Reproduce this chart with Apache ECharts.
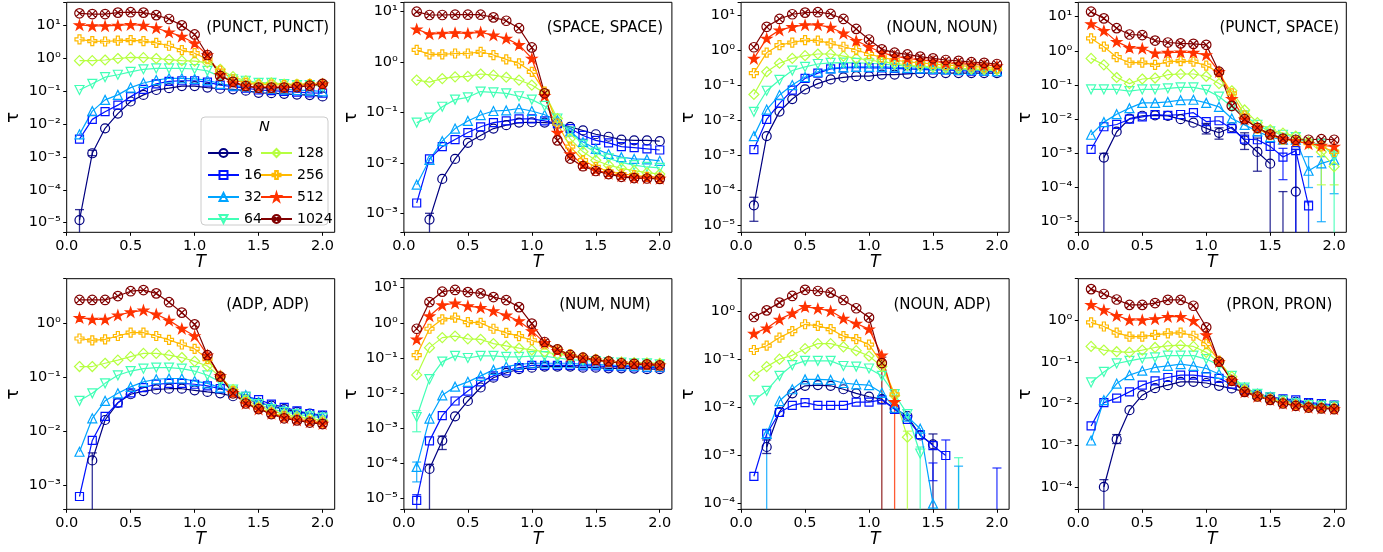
<!DOCTYPE html>
<html>
<head>
<meta charset="utf-8">
<script src="https://cdn.jsdelivr.net/npm/echarts@6/dist/echarts.min.js"></script>
<style>
  html, body { margin: 0; padding: 0; background: #ffffff; }
  #chart { width: 1383px; height: 552px; }
</style>
</head>
<body>
<div id="chart"></div>
<script>
// Temperatures at which tau was measured
const T = [0.1, 0.2, 0.3, 0.4, 0.5, 0.6, 0.7, 0.8, 0.9, 1.0, 1.1, 1.2, 1.3, 1.4, 1.5, 1.6, 1.7, 1.8, 1.9, 2.0];
// System sizes, one curve each
const N_LABELS = ['8', '16', '32', '64', '128', '256', '512', '1024'];
const PANEL_TITLES = ['(PUNCT, PUNCT)', '(SPACE, SPACE)', '(NOUN, NOUN)', '(PUNCT, SPACE)',
                      '(ADP, ADP)', '(NUM, NUM)', '(NOUN, ADP)', '(PRON, PRON)'];
const X_TICKS = [0.0, 0.5, 1.0, 1.5, 2.0];
// y limits of each panel, as exponents of ten
const Y_EXP_RANGES = [[-5.293, 1.712], [-3.377, 1.186], [-5.2, 1.362], [-5.31, 1.42],
                      [-3.445, 0.834], [-5.302, 1.255], [-4.117, 0.67], [-4.535, 0.99]];

// tau(T) per panel: one row per N (8 ... 1024); null = not positive
const tauPunctPunct = [
  [1.2e-5, 1.3e-3, 0.0075, 0.021, 0.049, 0.078, 0.11, 0.125, 0.145, 0.145, 0.13, 0.12, 0.115, 0.105, 0.09, 0.088, 0.084, 0.08, 0.077, 0.07],
  [0.0035, 0.014, 0.024, 0.038, 0.069, 0.115, 0.17, 0.2, 0.21, 0.21, 0.19, 0.155, 0.14, 0.125, 0.11, 0.105, 0.1, 0.095, 0.09, 0.088],
  [0.0049, 0.025, 0.055, 0.078, 0.13, 0.18, 0.22, 0.25, 0.25, 0.24, 0.22, 0.17, 0.15, 0.14, 0.13, 0.12, 0.115, 0.11, 0.105, 0.1],
  [0.11, 0.17, 0.27, 0.32, 0.39, 0.47, 0.5, 0.5, 0.5, 0.48, 0.42, 0.28, 0.23, 0.21, 0.18, 0.18, 0.165, 0.155, 0.155, 0.145],
  [0.86, 0.86, 0.9, 1.0, 1.08, 1.06, 1.0, 0.93, 0.86, 0.83, 0.75, 0.47, 0.28, 0.21, 0.17, 0.18, 0.165, 0.165, 0.17, 0.17],
  [3.8, 3.4, 3.3, 3.5, 3.65, 3.4, 3.0, 2.45, 1.8, 1.45, 0.95, 0.43, 0.23, 0.18, 0.16, 0.16, 0.155, 0.16, 0.165, 0.17],
  [10.5, 9.8, 9.8, 10.2, 10.7, 10.2, 8.5, 6.3, 4.7, 2.9, 1.28, 0.32, 0.18, 0.145, 0.13, 0.13, 0.13, 0.14, 0.15, 0.165],
  [23.8, 22.6, 22.6, 25, 25.7, 25, 21, 16, 10.2, 5.4, 1.28, 0.295, 0.195, 0.145, 0.13, 0.13, 0.13, 0.135, 0.15, 0.17]
];
const tauSpaceSpace = [
  [null, 0.00075, 0.0048, 0.012, 0.025, 0.035, 0.048, 0.056, 0.063, 0.064, 0.063, 0.06, 0.052, 0.044, 0.037, 0.033, 0.029, 0.028, 0.028, 0.027],
  [0.0016, 0.012, 0.021, 0.029, 0.04, 0.052, 0.063, 0.068, 0.075, 0.075, 0.068, 0.06, 0.048, 0.035, 0.028, 0.025, 0.021, 0.02, 0.019, 0.018],
  [0.0037, 0.0115, 0.027, 0.048, 0.068, 0.089, 0.107, 0.11, 0.12, 0.107, 0.09, 0.07, 0.042, 0.026, 0.019, 0.015, 0.013, 0.012, 0.0117, 0.011],
  [0.063, 0.079, 0.13, 0.18, 0.2, 0.26, 0.25, 0.24, 0.21, 0.18, 0.135, 0.076, 0.042, 0.023, 0.016, 0.0123, 0.0102, 0.009, 0.0083, 0.008],
  [0.44, 0.4, 0.47, 0.51, 0.52, 0.58, 0.55, 0.5, 0.44, 0.35, 0.24, 0.076, 0.03, 0.0166, 0.0113, 0.009, 0.0078, 0.007, 0.0064, 0.006],
  [1.75, 1.42, 1.42, 1.48, 1.48, 1.6, 1.38, 1.13, 0.94, 0.64, 0.26, 0.06, 0.021, 0.0113, 0.0083, 0.0068, 0.006, 0.0057, 0.0053, 0.0051],
  [4.5, 3.6, 3.7, 3.8, 3.7, 3.9, 3.4, 2.95, 2.2, 1.18, 0.215, 0.04, 0.015, 0.0092, 0.0072, 0.0062, 0.0055, 0.0051, 0.005, 0.0049],
  [10, 8.6, 8.6, 8.7, 8.7, 8.7, 7.7, 6.6, 4.7, 1.95, 0.24, 0.028, 0.0122, 0.0086, 0.0069, 0.006, 0.0053, 0.005, 0.0049, 0.0048]
];
const tauNounNoun = [
  [3.7e-5, 0.0035, 0.0175, 0.04, 0.075, 0.11, 0.145, 0.165, 0.18, 0.18, 0.2, 0.2, 0.21, 0.22, 0.22, 0.22, 0.22, 0.22, 0.22, 0.22],
  [0.00145, 0.0105, 0.03, 0.072, 0.155, 0.22, 0.29, 0.31, 0.32, 0.31, 0.31, 0.3, 0.29, 0.28, 0.27, 0.27, 0.26, 0.25, 0.25, 0.24],
  [0.0035, 0.02, 0.052, 0.1, 0.17, 0.24, 0.3, 0.32, 0.33, 0.33, 0.33, 0.32, 0.31, 0.3, 0.29, 0.28, 0.27, 0.27, 0.26, 0.25],
  [0.0173, 0.069, 0.14, 0.26, 0.33, 0.4, 0.43, 0.44, 0.43, 0.42, 0.4, 0.37, 0.35, 0.33, 0.31, 0.3, 0.29, 0.28, 0.27, 0.26],
  [0.054, 0.24, 0.42, 0.58, 0.69, 0.77, 0.77, 0.67, 0.58, 0.52, 0.46, 0.42, 0.37, 0.35, 0.33, 0.31, 0.3, 0.29, 0.28, 0.27],
  [0.22, 0.84, 1.39, 1.62, 1.93, 1.85, 1.55, 1.24, 1.0, 0.77, 0.62, 0.52, 0.46, 0.43, 0.4, 0.37, 0.36, 0.34, 0.32, 0.3],
  [0.57, 2.15, 3.7, 4.6, 5.2, 5.2, 4.4, 3.0, 1.85, 1.24, 0.84, 0.67, 0.58, 0.52, 0.48, 0.43, 0.41, 0.39, 0.37, 0.35],
  [1.2, 4.6, 7.7, 10.5, 11.7, 12, 10.7, 7.7, 4.0, 2.0, 1.05, 0.84, 0.75, 0.65, 0.58, 0.52, 0.49, 0.45, 0.43, 0.4]
];
const tauPunctSpace = [
  [null, 0.00075, 0.0043, 0.0104, 0.0126, 0.013, 0.0125, 0.01, 0.0079, 0.0054, 0.004, 0.0058, 0.0024, 0.0011, 0.0005, null, 7.6e-5, null, null, null],
  [0.0013, 0.006, 0.007, 0.01, 0.0117, 0.0137, 0.013, 0.0137, 0.0155, 0.0085, 0.009, 0.0053, 0.0026, 0.0025, 0.0016, 0.00078, 0.0012, 2.9e-5, null, null],
  [0.0035, 0.0082, 0.014, 0.021, 0.03, 0.03, 0.032, 0.036, 0.037, 0.03, 0.023, 0.0105, 0.0068, 0.0044, 0.003, 0.0025, 0.0025, 0.00031, 0.00051, 0.00065],
  [0.074, 0.074, 0.074, 0.066, 0.074, 0.074, 0.08, 0.085, 0.085, 0.072, 0.046, 0.023, 0.013, 0.0068, 0.0044, 0.0035, 0.003, 0.0019, 0.0019, 0.0008],
  [0.6, 0.39, 0.166, 0.11, 0.15, 0.16, 0.2, 0.21, 0.21, 0.18, 0.11, 0.068, 0.0186, 0.0079, 0.0049, 0.0039, 0.0032, 0.0022, 0.0011, 0.00041],
  [2.3, 1.32, 0.65, 0.45, 0.45, 0.39, 0.48, 0.5, 0.48, 0.37, 0.23, 0.057, 0.013, 0.0053, 0.0034, 0.0025, 0.0023, 0.002, 0.0016, 0.0011],
  [6.1, 3.9, 1.86, 1.24, 1.17, 0.85, 0.89, 0.91, 0.89, 0.76, 0.245, 0.04, 0.01, 0.0056, 0.0037, 0.0027, 0.0023, 0.0019, 0.0017, 0.0016],
  [14, 8.9, 4.6, 3.0, 2.9, 2.0, 1.75, 1.65, 1.6, 1.5, 0.245, 0.0245, 0.01, 0.0056, 0.0036, 0.0027, 0.0025, 0.0025, 0.0026, 0.0025]
];
const tauAdpAdp = [
  [null, 0.0029, 0.0163, 0.034, 0.049, 0.056, 0.06, 0.062, 0.062, 0.058, 0.054, 0.051, 0.045, 0.04, 0.034, 0.03, 0.026, 0.023, 0.0214, 0.0195],
  [0.00062, 0.0068, 0.019, 0.034, 0.052, 0.065, 0.075, 0.078, 0.078, 0.075, 0.07, 0.062, 0.056, 0.045, 0.039, 0.032, 0.028, 0.024, 0.0215, 0.02],
  [0.0042, 0.0175, 0.037, 0.051, 0.067, 0.083, 0.093, 0.096, 0.096, 0.086, 0.078, 0.065, 0.056, 0.047, 0.035, 0.029, 0.025, 0.022, 0.021, 0.019],
  [0.037, 0.051, 0.078, 0.11, 0.132, 0.146, 0.153, 0.153, 0.146, 0.132, 0.11, 0.083, 0.06, 0.044, 0.032, 0.026, 0.023, 0.021, 0.019, 0.018],
  [0.16, 0.16, 0.184, 0.21, 0.244, 0.28, 0.28, 0.26, 0.235, 0.2, 0.164, 0.104, 0.06, 0.039, 0.029, 0.024, 0.021, 0.019, 0.0173, 0.016],
  [0.53, 0.49, 0.51, 0.59, 0.68, 0.68, 0.59, 0.5, 0.41, 0.34, 0.22, 0.107, 0.056, 0.035, 0.027, 0.022, 0.019, 0.0172, 0.0156, 0.0146],
  [1.29, 1.2, 1.2, 1.43, 1.64, 1.77, 1.49, 1.15, 0.81, 0.59, 0.26, 0.107, 0.052, 0.033, 0.026, 0.0215, 0.018, 0.0162, 0.015, 0.014],
  [2.75, 2.75, 2.75, 3.25, 4.0, 4.2, 3.65, 2.5, 1.6, 0.97, 0.26, 0.104, 0.051, 0.033, 0.026, 0.021, 0.0175, 0.016, 0.0146, 0.0137]
];
const tauNumNum = [
  [null, 7e-5, 0.00045, 0.0022, 0.006, 0.0145, 0.0275, 0.038, 0.048, 0.053, 0.057, 0.057, 0.057, 0.053, 0.053, 0.051, 0.051, 0.05, 0.048, 0.048],
  [9e-6, 0.00044, 0.0023, 0.006, 0.0115, 0.021, 0.031, 0.043, 0.053, 0.062, 0.062, 0.062, 0.062, 0.06, 0.06, 0.057, 0.057, 0.056, 0.053, 0.053],
  [8e-5, 0.0019, 0.0087, 0.0153, 0.021, 0.031, 0.046, 0.057, 0.066, 0.071, 0.071, 0.071, 0.071, 0.066, 0.066, 0.063, 0.062, 0.06, 0.057, 0.057],
  [0.0021, 0.025, 0.079, 0.115, 0.1, 0.115, 0.115, 0.107, 0.107, 0.113, 0.113, 0.1, 0.09, 0.085, 0.082, 0.077, 0.074, 0.071, 0.07, 0.066],
  [0.033, 0.197, 0.38, 0.42, 0.35, 0.34, 0.257, 0.22, 0.19, 0.17, 0.15, 0.128, 0.115, 0.1, 0.091, 0.082, 0.077, 0.074, 0.073, 0.071],
  [0.12, 0.68, 1.26, 1.4, 1.05, 1.0, 0.68, 0.52, 0.42, 0.32, 0.245, 0.177, 0.128, 0.102, 0.09, 0.079, 0.072, 0.068, 0.065, 0.062],
  [0.34, 1.56, 3.2, 3.6, 3.0, 2.7, 2.17, 1.64, 1.13, 0.59, 0.27, 0.16, 0.115, 0.098, 0.086, 0.078, 0.071, 0.066, 0.064, 0.062],
  [0.68, 3.9, 7.7, 8.6, 7.5, 6.9, 5.4, 4.45, 2.8, 0.95, 0.285, 0.177, 0.122, 0.102, 0.088, 0.08, 0.071, 0.068, 0.066, 0.062]
];
const tauNounAdp = [
  [null, 0.0015, 0.008, 0.0195, 0.028, 0.029, 0.028, 0.0237, 0.0195, 0.0166, 0.0148, 0.0094, 0.0066, 0.0026, 0.0017, null, null, null, null, null],
  [0.00037, 0.0028, 0.0078, 0.011, 0.0125, 0.011, 0.011, 0.011, 0.0128, 0.0128, 0.0143, 0.0091, 0.0056, 0.0027, 0.0016, 0.001, null, null, null, null],
  [null, 0.0028, 0.0135, 0.0237, 0.038, 0.038, 0.037, 0.032, 0.03, 0.029, 0.02, 0.0098, 0.0064, 0.0036, 0.0001, null, null, null, null, null],
  [0.014, 0.022, 0.045, 0.075, 0.092, 0.092, 0.092, 0.072, 0.07, 0.064, 0.045, 0.0187, 0.0072, 0.0011, null, null, null, null, null, null],
  [0.045, 0.07, 0.1, 0.12, 0.165, 0.21, 0.21, 0.18, 0.15, 0.116, 0.07, 0.0175, 0.0024, null, null, null, null, null, null, null],
  [0.155, 0.19, 0.28, 0.38, 0.53, 0.49, 0.42, 0.3, 0.26, 0.2, 0.082, 0.0185, null, null, null, null, null, null, null, null],
  [0.34, 0.44, 0.67, 0.9, 1.23, 1.12, 1.0, 0.7, 0.55, 0.42, 0.12, 0.013, null, null, null, null, null, null, null, null],
  [0.75, 1.03, 1.49, 2.05, 2.75, 2.6, 2.4, 1.69, 1.14, 0.73, 0.083, null, null, null, null, null, null, null, null, null]
];
const tauPronPron = [
  [null, 1e-4, 0.0014, 0.0069, 0.0158, 0.0233, 0.0275, 0.033, 0.033, 0.031, 0.0265, 0.023, 0.019, 0.016, 0.014, 0.0122, 0.011, 0.01, 0.0092, 0.0088],
  [0.0029, 0.0105, 0.0134, 0.019, 0.0275, 0.035, 0.042, 0.048, 0.048, 0.044, 0.04, 0.029, 0.022, 0.0167, 0.0145, 0.013, 0.0122, 0.0105, 0.01, 0.0092],
  [0.0013, 0.012, 0.03, 0.048, 0.061, 0.073, 0.08, 0.088, 0.08, 0.069, 0.051, 0.037, 0.024, 0.017, 0.0145, 0.012, 0.011, 0.0097, 0.0091, 0.0088],
  [0.032, 0.057, 0.091, 0.105, 0.12, 0.127, 0.14, 0.14, 0.14, 0.116, 0.083, 0.046, 0.024, 0.017, 0.014, 0.0117, 0.0101, 0.0092, 0.0088, 0.0085],
  [0.233, 0.19, 0.174, 0.168, 0.19, 0.22, 0.24, 0.25, 0.233, 0.168, 0.1, 0.044, 0.022, 0.016, 0.013, 0.011, 0.0096, 0.0088, 0.0083, 0.008],
  [0.88, 0.7, 0.5, 0.4, 0.4, 0.44, 0.48, 0.5, 0.42, 0.265, 0.105, 0.037, 0.02, 0.015, 0.0125, 0.0103, 0.009, 0.0082, 0.0078, 0.0075],
  [2.33, 1.74, 1.27, 1.0, 1.0, 1.06, 1.2, 1.2, 0.96, 0.44, 0.1, 0.035, 0.019, 0.0148, 0.0123, 0.0101, 0.0089, 0.0081, 0.0077, 0.0074],
  [5.5, 4.2, 3.1, 2.3, 2.3, 2.55, 3.05, 3.05, 2.2, 0.67, 0.1, 0.035, 0.019, 0.0147, 0.0122, 0.01, 0.0088, 0.008, 0.0076, 0.0073]
];

// Error bars: [N index, T, lower, upper]; lower 0 means it runs off the bottom of the axes
const errPunctPunct = [[0, 0.1, 0, 2.5e-5], [0, 0.2, 0.0011, 0.0016]];
const errSpaceSpace = [[0, 0.2, 0, 0.001]];
const errNounNoun = [[0, 0.1, 1.3e-5, 6.3e-5]];
const errPunctSpace = [
  [0, 0.2, 0, 0.001], [0, 1.0, 0.0037, 0.0075], [0, 1.1, 0.0026, 0.0056], [0, 1.3, 0.0013, 0.004],
  [0, 1.4, 3e-4, 0.0028], [0, 1.5, 0, 0.0021], [0, 1.6, 0, 7.6e-5], [0, 1.7, 0, 0.0013],
  [1, 1.6, 1.7e-4, 0.0014], [1, 1.7, 0, 0.0013], [1, 1.8, 0, 4e-5], [2, 1.8, 1e-4, 8e-4],
  [2, 1.9, 1e-5, 8e-4], [2, 2.0, 6.6e-5, 0.0012], [4, 1.9, 1.2e-4, 0.002], [4, 2.0, 1.2e-4, 0.0013],
  [3, 2.0, 0, 0.0012]
];
const errAdpAdp = [[0, 0.2, 0, 0.004]];
const errNumNum = [[3, 0.1, 0.0008, 0.0032], [2, 0.1, 3e-5, 1.1e-4], [1, 0.1, 0, 1.3e-5], [0, 0.2, 0, 9.5e-5], [0, 0.3, 2.5e-4, 6e-4]];
const errNounAdp = [
  [7, 1.1, 0, 0.11], [6, 1.2, 0, 0.017], [4, 1.3, 0, 0.0032], [3, 1.4, 0, 0.0015],
  [0, 1.5, 0, 0.0028], [1, 1.5, 3e-4, 7e-4], [1, 1.6, 0, 0.0021], [3, 1.7, 0, 0.0009],
  [2, 1.7, 0, 0.0006], [1, 2.0, 0, 0.00055], [2, 0.2, 0, 0.0035], [0, 0.2, 0.0011, 0.0021]
];
const errPronPron = [[0, 0.2, 0, 1.5e-4], [0, 0.3, 0.0011, 0.0018]];

const TAU = [tauPunctPunct, tauSpaceSpace, tauNounNoun, tauPunctSpace, tauAdpAdp, tauNumNum, tauNounAdp, tauPronPron];
const ERRS = [errPunctPunct, errSpaceSpace, errNounNoun, errPunctSpace, errAdpAdp, errNumNum, errNounAdp, errPronPron];

// jet colormap sampled at eight evenly spaced points
const COLORS = ['#000080', '#0012ff', '#00a4ff', '#41ffb6', '#b6ff41', '#ffb900', '#ff3200', '#800000'];
const PLUS_PATH = 'path://M2,0H4V2H6V4H4V6H2V4H0V2H2Z';
const STAR_PATH = 'path://M10,0L12.245,6.91L19.51,6.91L13.63,11.18L15.88,18.09L10,13.82L4.12,18.09L6.37,11.18L0.49,6.91L7.755,6.91Z';
const OTIMES_PATH = 'path://M10,0A10,10,0,1,1,10,20A10,10,0,1,1,10,0ZM2.93,2.93L17.07,17.07M17.07,2.93L2.93,17.07';
const SYMBOLS = ['circle', 'rect', 'triangle', 'triangle', 'diamond', PLUS_PATH, STAR_PATH, OTIMES_PATH];
const SYMBOL_ROTATE = [0, 0, 0, 180, 0, 0, 0, 0];
const SYMBOL_SIZE = [9, 8, 9, 9, 10, 9, 10, 9.5];
const SYMBOL_FILLED = [false, false, false, false, false, false, true, false];

// Layout of the 2 x 4 grid of axes
const COL_LEFT = [66.7, 403.9, 741.1, 1078.3];
const COL_WIDTH = 268;
const ROW_TOP = [2.3, 278.7];
const ROW_HEIGHT = [230, 230.6];
const FONT = 'DejaVu Sans';

const SUP = { '0': '\u2070', '1': '\u00b9', '2': '\u00b2', '3': '\u00b3', '4': '\u2074', '5': '\u2075',
              '6': '\u2076', '7': '\u2077', '8': '\u2078', '9': '\u2079', '-': '\u207b' };
function powLabel(v) {
  const e = Math.log10(v);
  const r = Math.round(e);
  if (Math.abs(e - r) > 1e-6) return '';
  return '10' + String(r).split('').map(c => SUP[c]).join('');
}
function xLabel(v) {
  return Math.abs(v * 2 - Math.round(v * 2)) < 1e-9 ? v.toFixed(1) : '';
}

const grids = [], xAxes = [], yAxes = [], series = [], graphics = [];

TAU.forEach((rows, p) => {
  const col = p % 4, row = Math.floor(p / 4);
  const left = COL_LEFT[col], top = ROW_TOP[row], width = COL_WIDTH, height = ROW_HEIGHT[row];
  grids.push({ left, top, width, height, show: true, borderColor: '#000', borderWidth: 1, backgroundColor: 'transparent', containLabel: false });

  xAxes.push({
    gridIndex: p, type: 'value', min: 0, max: 2.095, interval: 0.5,
    axisLine: { show: false },
    axisTick: { show: true, length: 3.5, lineStyle: { color: '#000', width: 1 } },
    axisLabel: { formatter: xLabel, margin: 6, fontSize: 14.5, color: '#000', fontFamily: FONT, showMaxLabel: false },
    splitLine: { show: false },
    name: 'T', nameLocation: 'middle', nameGap: 20,
    nameTextStyle: { fontStyle: 'italic', fontSize: 17, fontFamily: FONT, color: '#000' }
  });

  const yr = Y_EXP_RANGES[p];
  yAxes.push({
    gridIndex: p, type: 'log', logBase: 10,
    min: Math.pow(10, yr[0]), max: Math.pow(10, yr[1]),
    axisLine: { show: false },
    axisTick: { show: true, length: 3.5, lineStyle: { color: '#000', width: 1 } },
    axisLabel: { formatter: powLabel, margin: 6, fontSize: 14.5, color: '#000', fontFamily: FONT },
    splitLine: { show: false },
    name: '\u03c4', nameLocation: 'middle', nameRotate: 90, nameGap: 44,
    nameTextStyle: { fontSize: 18, fontFamily: FONT, color: '#000' }
  });

  // error bars for this panel
  series.push({
    type: 'custom', xAxisIndex: p, yAxisIndex: p, silent: true, z: 2,
    encode: { x: 0, y: 2 },
    data: ERRS[p].map(e => [e[1], e[2], e[3], e[0]]),
    renderItem: (params, api) => {
      const cs = params.coordSys;
      const x = api.value(0), lo = api.value(1), hi = api.value(2), k = api.value(3);
      const pt = api.coord([x, hi]);
      const px = pt[0];
      const yTop = Math.max(pt[1], cs.y);
      const yBot = lo > 0 ? api.coord([x, lo])[1] : cs.y + cs.height;
      const style = { stroke: COLORS[k], lineWidth: 1.3, opacity: 0.8 };
      const children = [
        { type: 'line', shape: { x1: px, y1: yTop, x2: px, y2: yBot }, style },
        { type: 'line', shape: { x1: px - 4.5, y1: yTop, x2: px + 4.5, y2: yTop }, style }
      ];
      if (lo > 0) children.push({ type: 'line', shape: { x1: px - 4.5, y1: yBot, x2: px + 4.5, y2: yBot }, style });
      return { type: 'group', children };
    }
  });

  rows.forEach((vals, k) => {
    const c = COLORS[k];
    series.push({
      type: 'line', name: N_LABELS[k], xAxisIndex: p, yAxisIndex: p,
      data: T.map((t, i) => [t, vals[i]]),
      symbol: SYMBOLS[k], symbolSize: SYMBOL_SIZE[k], symbolRotate: SYMBOL_ROTATE[k], symbolKeepAspect: true,
      showSymbol: true, connectNulls: false, clip: true,
      lineStyle: { color: c, width: 1.2 },
      itemStyle: { color: SYMBOL_FILLED[k] ? c : 'rgba(255,255,255,0)', borderColor: c, borderWidth: 1.2 },
      emphasis: { disabled: true }, z: 2
    });
  });

  // panel caption, centred at three quarters of the axes width
  graphics.push({
    type: 'text', x: left + 0.75 * width, y: top + 26,
    style: { text: PANEL_TITLES[p], align: 'center', verticalAlign: 'middle',
             font: '15px "DejaVu Sans"', fill: '#000' },
    z: 20
  });
});

// legend frame and its title
graphics.push({
  type: 'rect', shape: { x: 201, y: 117, width: 127, height: 108, r: 4 },
  style: { fill: 'rgba(255,255,255,0.8)', stroke: '#cccccc', lineWidth: 1 }, z: 5
});
graphics.push({
  type: 'text', x: 264.5, y: 127,
  style: { text: 'N', align: 'center', verticalAlign: 'middle', font: 'italic 14.5px "DejaVu Sans"', fill: '#000' },
  z: 6
});

const legendBase = {
  orient: 'vertical', itemWidth: 31, itemHeight: 10, itemGap: 8, selectedMode: false,
  textStyle: { fontSize: 14, fontFamily: FONT, color: '#000', lineHeight: 14 }, z: 10
};

const chart = echarts.init(document.getElementById('chart'), null, { renderer: 'canvas' });
chart.setOption({
  animation: false,
  backgroundColor: '#ffffff',
  grid: grids, xAxis: xAxes, yAxis: yAxes, series,
  legend: [
    Object.assign({}, legendBase, { data: N_LABELS.slice(0, 4), left: 202, top: 141 }),
    Object.assign({}, legendBase, { data: N_LABELS.slice(4), left: 255, top: 141 })
  ],
  graphic: graphics
});
</script>
</body>
</html>
